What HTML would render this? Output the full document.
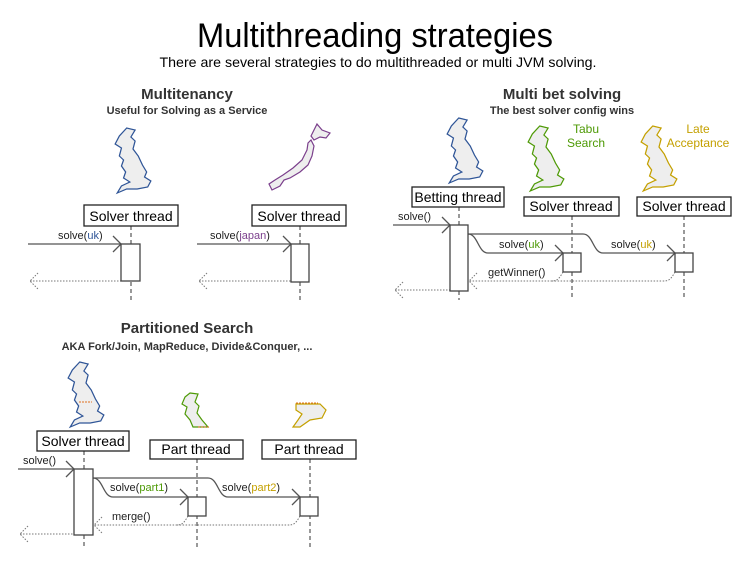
<!DOCTYPE html>
<html><head><meta charset="utf-8"><style>
html,body{margin:0;padding:0;background:#fff;}
svg{display:block;font-family:"Liberation Sans",sans-serif;}
</style></head><body>
<svg width="750" height="563" viewBox="0 0 750 563" xmlns="http://www.w3.org/2000/svg">
<defs>
<path id="uk" d="M14,0 L22,2 L18,9 L22,13 L20,21 L25,28 L29,37 L33,44 L31,49 L37,53 L34,59 L24,61 L14,61 L5,65 L9,58 L17,54 L11,50 L13,44 L9,38 L11,32 L7,28 L9,20 L3,16 L7,8 Z"/>
</defs>
<text x="375" y="47" text-anchor="middle" font-size="34" textLength="356" lengthAdjust="spacingAndGlyphs">Multithreading strategies</text>
<text x="378" y="67" text-anchor="middle" font-size="14" textLength="437" lengthAdjust="spacingAndGlyphs">There are several strategies to do multithreaded or multi JVM solving.</text>

<g fill="#333" font-weight="bold" text-anchor="middle">
<text x="187" y="99" font-size="15">Multitenancy</text>
<text x="187" y="114" font-size="11">Useful for Solving as a Service</text>
<text x="562" y="99" font-size="15">Multi bet solving</text>
<text x="562" y="114" font-size="11">The best solver config wins</text>
<text x="187" y="333" font-size="15">Partitioned Search</text>
<text x="187" y="350" font-size="11">AKA Fork/Join, MapReduce, Divide&amp;Conquer, ...</text>
</g>

<!-- maps -->
<g fill="#eee" stroke-width="1.2">
<use href="#uk" transform="translate(112,128) scale(1.05,1)" stroke="#2f5597"/>
<use href="#uk" transform="translate(444,118) scale(1.05,1)" stroke="#2f5597"/>
<use href="#uk" transform="translate(525,126) scale(1.05,1)" stroke="#4e9a06"/>
<use href="#uk" transform="translate(638,126) scale(1.05,1)" stroke="#c4a000"/>
<use href="#uk" transform="translate(65,362) scale(1.05,1)" stroke="#2f5597"/>
<path d="M190,393 L198,394 L195,402 L199,406 L197,413 L202,420 L208,427 L193,427 L190,420 L185,414 L187,407 L182,404 L185,397 Z" fill="#eee" stroke="#4e9a06"/>
<path d="M296,404 L320,404 L326,410 L322,418 L310,420 L300,427 L293,427 L298,420 L302,414 L296,410 Z" fill="#eee" stroke="#c4a000"/>
<path d="M317,124 L322,130 L330,133 L326,138 L320,137 L314,140 L311,136 L313,132 Z M311,140 L314,146 L312,156 L308,165 L300,172 L290,178 L284,180 L280,186 L272,190 L269,184 L275,180 L283,175 L293,168 L302,160 L307,150 L308,143 Z" fill="#eee" stroke="#7b3f8c"/>
</g>
<g stroke="#e07020" stroke-dasharray="2,1" stroke-width="1"><line x1="79" y1="402" x2="92" y2="402"/><line x1="198" y1="427" x2="210" y2="427"/><line x1="296" y1="403" x2="318" y2="403"/></g>

<g font-size="12" fill="#4e9a06" text-anchor="middle"><text x="586" y="133">Tabu</text><text x="586" y="147">Search</text></g>
<g font-size="12" fill="#c4a000" text-anchor="middle"><text x="698" y="133">Late</text><text x="698" y="147">Acceptance</text></g>

<!-- lifelines -->
<g stroke="#333" stroke-dasharray="4,3" stroke-width="1">
<line x1="131" y1="226" x2="131" y2="300"/>
<line x1="300" y1="226" x2="300" y2="300"/>
<line x1="459" y1="207" x2="459" y2="300"/>
<line x1="572" y1="216" x2="572" y2="300"/>
<line x1="684" y1="216" x2="684" y2="300"/>
<line x1="84" y1="451" x2="84" y2="548"/>
<line x1="197" y1="459" x2="197" y2="548"/>
<line x1="310" y1="459" x2="310" y2="548"/>
</g>

<!-- header boxes -->
<g fill="#fff" stroke="#222" stroke-width="1.3">
<rect x="84" y="205" width="94" height="21"/>
<rect x="252" y="205" width="94" height="21"/>
<rect x="412" y="187" width="92" height="20"/>
<rect x="524" y="197" width="95" height="19"/>
<rect x="637" y="197" width="94" height="19"/>
<rect x="37" y="431" width="92" height="20"/>
<rect x="150" y="440" width="93" height="19"/>
<rect x="262" y="440" width="94" height="19"/>
</g>
<g font-size="14" text-anchor="middle" fill="#000">
<text x="131" y="221">Solver thread</text>
<text x="299" y="221">Solver thread</text>
<text x="458" y="202">Betting thread</text>
<text x="571" y="211">Solver thread</text>
<text x="684" y="211">Solver thread</text>
<text x="83" y="446">Solver thread</text>
<text x="196" y="454">Part thread</text>
<text x="309" y="454">Part thread</text>
</g>

<!-- messages -->
<g fill="none" stroke="#555" stroke-width="1.3">
<line x1="28" y1="244" x2="121" y2="244"/><path d="M113,236 L121,244 L113,252"/>
<line x1="197" y1="244" x2="291" y2="244"/><path d="M283,236 L291,244 L283,252"/>
<line x1="393" y1="225" x2="450" y2="225"/><path d="M442,217 L450,225 L442,233"/>
<path d="M468,234 C478,234 478,253 488,253 L563,253"/><path d="M555,245 L563,253 L555,261"/>
<path d="M468,234 L583,234 C593,234 593,253 603,253 L675,253"/><path d="M667,245 L675,253 L667,261"/>
<line x1="18" y1="469" x2="74" y2="469"/><path d="M66,461 L74,469 L66,477"/>
<path d="M93,478 C103,478 103,497 113,497 L188,497"/><path d="M180,489 L188,497 L180,505"/>
<path d="M93,478 L208,478 C218,478 218,497 228,497 L300,497"/><path d="M292,489 L300,497 L292,505"/>
</g>
<g fill="none" stroke="#777" stroke-width="1" stroke-dasharray="1.5,1.5">
<line x1="30" y1="281" x2="121" y2="281"/><path d="M38,273 L30,281 L38,289"/>
<line x1="199" y1="281" x2="291" y2="281"/><path d="M207,273 L199,281 L207,289"/>
<path d="M563,272 C558,281 556,281 550,281 L470,281"/><path d="M675,272 C670,281 668,281 662,281 L550,281"/><path d="M477,273 L469,281 L477,289"/>
<line x1="395" y1="290" x2="450" y2="290"/><path d="M403,282 L395,290 L403,298"/>
<path d="M188,516 C183,525 181,525 175,525 L95,525"/><path d="M300,516 C295,525 293,525 287,525 L175,525"/><path d="M102,517 L94,525 L102,533"/>
<line x1="20" y1="534" x2="74" y2="534"/><path d="M28,526 L20,534 L28,542"/>
</g>

<!-- activations -->
<g fill="#fff" stroke="#444" stroke-width="1.3">
<rect x="121" y="244" width="19" height="37"/>
<rect x="291" y="244" width="18" height="38"/>
<rect x="450" y="225" width="18" height="66"/>
<rect x="563" y="253" width="18" height="19"/>
<rect x="675" y="253" width="18" height="19"/>
<rect x="74" y="469" width="19" height="66"/>
<rect x="188" y="497" width="18" height="19"/>
<rect x="300" y="497" width="18" height="19"/>
</g>

<g font-size="11" fill="#222">
<text x="58" y="239">solve(<tspan fill="#2f5597">uk</tspan>)</text>
<text x="210" y="239">solve(<tspan fill="#7b3f8c">japan</tspan>)</text>
<text x="398" y="220">solve()</text>
<text x="499" y="248">solve(<tspan fill="#4e9a06">uk</tspan>)</text>
<text x="611" y="248">solve(<tspan fill="#c4a000">uk</tspan>)</text>
<text x="488" y="276">getWinner()</text>
<text x="23" y="464">solve()</text>
<text x="110" y="491">solve(<tspan fill="#4e9a06">part1</tspan>)</text>
<text x="222" y="491">solve(<tspan fill="#c4a000">part2</tspan>)</text>
<text x="112" y="520">merge()</text>
</g>
</svg>
</body></html>
